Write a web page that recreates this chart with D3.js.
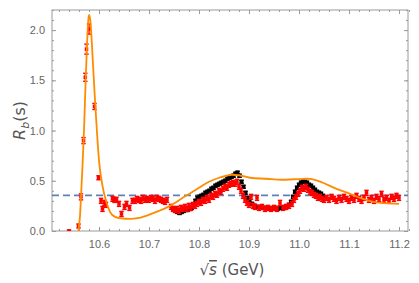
<!DOCTYPE html>
<html>
<head>
<meta charset="utf-8">
<script src="https://cdn.jsdelivr.net/npm/d3@7"></script>
<style>
  body { margin: 0; background: #fff; }
  svg { font-family: "DejaVu Sans", sans-serif; }
</style>
</head>
<body>
<div id="chart"></div>
<script>
/* red data points: sqrt(s), R_b, error */
const redX = [10.540, 10.559, 10.564, 10.569, 10.5726, 10.575, 10.580, 10.591, 10.599, 10.604, 10.607, 10.611, 10.614,
  10.627, 10.631, 10.635, 10.640, 10.645, 10.651, 10.655, 10.661, 10.667, 10.672, 10.676, 10.680, 10.684, 10.688,
  10.692, 10.696, 10.700, 10.704, 10.708, 10.712, 10.716, 10.720, 10.724, 10.728, 10.732, 10.736,
  10.744, 10.748, 10.752, 10.756, 10.760, 10.764, 10.768, 10.772, 10.776, 10.780, 10.784, 10.788, 10.792, 10.796,
  10.800, 10.804, 10.808, 10.812, 10.816, 10.820, 10.824, 10.828, 10.832, 10.836, 10.840, 10.844, 10.848, 10.852,
  10.856, 10.860, 10.864, 10.868, 10.872, 10.876, 10.880, 10.884, 10.888, 10.892, 10.896, 10.900, 10.904, 10.908,
  10.912, 10.916, 10.920, 10.926, 10.932, 10.938, 10.944, 10.950, 10.956, 10.962, 10.968, 10.974, 10.980, 10.986,
  10.990, 10.994, 10.998, 11.002, 11.006, 11.010, 11.014, 11.018, 11.022, 11.026, 11.030, 11.034, 11.038, 11.042,
  11.046, 11.050, 11.055, 11.060, 11.065, 11.070, 11.075, 11.080, 11.085, 11.090, 11.095, 11.100, 11.105, 11.110,
  11.115, 11.120, 11.125, 11.130, 11.135, 11.140, 11.145, 11.150, 11.155, 11.160, 11.165, 11.170, 11.175, 11.180,
  11.185, 11.190, 11.195, 11.200];
const redY = [0.00, 0.05, 0.34, 0.90, 1.53, 1.81, 2.01, 1.24, 0.53, 0.30, 0.22, 0.28, 0.26,
  0.32, 0.31, 0.31, 0.27, 0.17, 0.24, 0.27, 0.23, 0.30, 0.30, 0.32, 0.31, 0.30, 0.33,
  0.31, 0.32, 0.31, 0.33, 0.32, 0.30, 0.33, 0.32, 0.31, 0.30, 0.29, 0.31,
  0.24, 0.22, 0.21, 0.22, 0.20, 0.23, 0.22, 0.24, 0.22, 0.25, 0.23, 0.26, 0.25, 0.27,
  0.29, 0.28, 0.31, 0.30, 0.33, 0.31, 0.35, 0.34, 0.37, 0.36, 0.40, 0.39, 0.42, 0.44,
  0.43, 0.46, 0.47, 0.48, 0.47, 0.49, 0.44, 0.40, 0.35, 0.31, 0.28, 0.26, 0.34, 0.25,
  0.24, 0.33, 0.23, 0.24, 0.22, 0.23, 0.22, 0.23, 0.22, 0.28, 0.23, 0.24, 0.25, 0.27,
  0.31, 0.34, 0.37, 0.40, 0.43, 0.42, 0.44, 0.41, 0.39, 0.38, 0.36, 0.35, 0.33, 0.34,
  0.32, 0.31, 0.33, 0.31, 0.34, 0.32, 0.30, 0.33, 0.31, 0.34, 0.32, 0.30, 0.33, 0.31,
  0.35, 0.32, 0.30, 0.33, 0.38, 0.31, 0.33, 0.30, 0.34, 0.32, 0.37, 0.31, 0.33, 0.30,
  0.34, 0.32, 0.35, 0.33];
const redErr = [0.01, 0.02, 0.03, 0.03, 0.04, 0.05, 0.05, 0.03, 0.02];   // first points, rest use default
const redErrDefault = 0.025;

/* black data points */
const blackX = [10.749, 10.753, 10.757, 10.761, 10.765, 10.769, 10.773, 10.777, 10.781, 10.785, 10.789, 10.793,
  10.797, 10.801, 10.805, 10.809, 10.813, 10.817, 10.821, 10.825, 10.829, 10.833, 10.837, 10.841, 10.845, 10.849,
  10.853, 10.857, 10.861, 10.865, 10.869, 10.873, 10.877, 10.881, 10.885, 10.889, 10.893, 10.897, 10.901, 10.906,
  10.911, 10.917, 10.923, 10.930, 10.937, 10.944, 10.951, 10.958, 10.965, 10.971, 10.976, 10.980, 10.984, 10.988,
  10.992, 10.996, 11.000, 11.004, 11.008, 11.012, 11.016, 11.020, 11.024, 11.028, 11.032, 11.036, 11.040, 11.044,
  11.048];
const blackY = [0.22, 0.20, 0.19, 0.18, 0.19, 0.20, 0.21, 0.21, 0.22, 0.23, 0.26, 0.30,
  0.33, 0.34, 0.35, 0.36, 0.38, 0.39, 0.40, 0.42, 0.43, 0.45, 0.46, 0.47, 0.48, 0.49,
  0.50, 0.52, 0.53, 0.54, 0.55, 0.57, 0.58, 0.55, 0.49, 0.44, 0.38, 0.33, 0.30, 0.27,
  0.25, 0.24, 0.235, 0.23, 0.23, 0.225, 0.23, 0.225, 0.23, 0.23, 0.24, 0.26, 0.29, 0.34,
  0.39, 0.43, 0.46, 0.48, 0.49, 0.49, 0.48, 0.46, 0.45, 0.43, 0.41, 0.39, 0.38, 0.37,
  0.35];
const blackErr = 0.015;

/* model curve (orange) */
const curveX = [10.556, 10.560, 10.562, 10.564, 10.567, 10.570, 10.573, 10.576, 10.579, 10.5806, 10.583, 10.587,
  10.592, 10.596, 10.600, 10.607, 10.614, 10.622, 10.632, 10.645, 10.662, 10.680, 10.702, 10.720, 10.742, 10.772,
  10.800, 10.820, 10.840, 10.855, 10.866, 10.880, 10.902, 10.935, 10.965, 10.990, 11.018, 11.035, 11.048, 11.075,
  11.102, 11.128, 11.162, 11.200];
const curveY = [-0.1, 0.05, 0.15, 0.34, 0.65, 1.00, 1.45, 1.85, 2.12, 2.15, 2.08, 1.75,
  1.30, 0.98, 0.70, 0.45, 0.30, 0.19, 0.14, 0.125, 0.12, 0.13, 0.165, 0.20, 0.25, 0.345,
  0.43, 0.49, 0.53, 0.55, 0.56, 0.555, 0.53, 0.52, 0.51, 0.515, 0.52, 0.505, 0.48, 0.42,
  0.37, 0.32, 0.28, 0.27];

const baseline = 0.355;

const xTicks = [10.6, 10.7, 10.8, 10.9, 11.0, 11.1, 11.2];
const yTicks = [0.0, 0.5, 1.0, 1.5, 2.0];

const W = 419, H = 283;
const margin = { top: 10, right: 11, bottom: 52, left: 52 };
const iw = W - margin.left - margin.right;
const ih = H - margin.top - margin.bottom;

const x = d3.scaleLinear().domain([10.506, 11.218]).range([0, iw]);
const y = d3.scaleLinear().domain([0, 2.2]).range([ih, 0]);

const svg = d3.select("#chart").append("svg")
  .attr("width", W).attr("height", H);

svg.append("defs").append("clipPath").attr("id", "clip")
  .append("rect").attr("width", iw).attr("height", ih);

const g = svg.append("g").attr("transform", `translate(${margin.left},${margin.top})`);

/* frame with inward ticks on all sides */
const frameColor = "#9a9a9a";
const labelColor = "#666";

const xMinor = d3.range(10.52, 11.2201, 0.02);
const yMinor = d3.range(0, 2.2001, 0.1);

function frameTicks(axisGen, sel) {
  sel.call(axisGen).call(s => s.select(".domain").remove());
  sel.selectAll("line").attr("stroke", frameColor);
}

// bottom
g.append("g").attr("transform", `translate(0,${ih})`)
  .call(s => frameTicks(d3.axisBottom(x).tickValues(xMinor).tickSizeInner(-2).tickFormat(""), s));
g.append("g").attr("transform", `translate(0,${ih})`)
  .call(s => frameTicks(d3.axisBottom(x).tickValues(xTicks).tickSizeInner(-4).tickPadding(9).tickFormat(d3.format(".1f")), s))
  .selectAll("text").attr("fill", labelColor).style("font-size", "11px");
// top
g.append("g").call(s => frameTicks(d3.axisTop(x).tickValues(xMinor).tickSizeInner(-2).tickFormat(""), s));
g.append("g").call(s => frameTicks(d3.axisTop(x).tickValues(xTicks).tickSizeInner(-4).tickFormat(""), s));
// left
g.append("g").call(s => frameTicks(d3.axisLeft(y).tickValues(yMinor).tickSizeInner(-2).tickFormat(""), s));
g.append("g")
  .call(s => frameTicks(d3.axisLeft(y).tickValues(yTicks).tickSizeInner(-4).tickPadding(7).tickFormat(d3.format(".1f")), s))
  .selectAll("text").attr("fill", labelColor).style("font-size", "11px");
// right
g.append("g").attr("transform", `translate(${iw},0)`)
  .call(s => frameTicks(d3.axisRight(y).tickValues(yMinor).tickSizeInner(-2).tickFormat(""), s));
g.append("g").attr("transform", `translate(${iw},0)`)
  .call(s => frameTicks(d3.axisRight(y).tickValues(yTicks).tickSizeInner(-4).tickFormat(""), s));

g.append("rect").attr("width", iw).attr("height", ih)
  .attr("fill", "none").attr("stroke", frameColor).attr("stroke-width", 1);

const plot = g.append("g").attr("clip-path", "url(#clip)");

/* dashed baseline */
plot.append("line")
  .attr("x1", 0).attr("x2", iw)
  .attr("y1", y(baseline)).attr("y2", y(baseline))
  .attr("stroke", "#5e81b5").attr("stroke-width", 1.8)
  .attr("stroke-dasharray", "7,4");

/* error bar helper */
function drawPoints(data, color, size, sw) {
  const pts = plot.append("g").selectAll("g").data(data).join("g");
  pts.append("line")
    .attr("x1", d => x(d.x)).attr("x2", d => x(d.x))
    .attr("y1", d => y(d.y - d.e)).attr("y2", d => y(d.y + d.e))
    .attr("stroke", color).attr("stroke-width", sw);
  pts.append("line")
    .attr("x1", d => x(d.x) - 2.2).attr("x2", d => x(d.x) + 2.2)
    .attr("y1", d => y(d.y + d.e)).attr("y2", d => y(d.y + d.e))
    .attr("stroke", color).attr("stroke-width", sw);
  pts.append("line")
    .attr("x1", d => x(d.x) - 2.2).attr("x2", d => x(d.x) + 2.2)
    .attr("y1", d => y(d.y - d.e)).attr("y2", d => y(d.y - d.e))
    .attr("stroke", color).attr("stroke-width", sw);
  pts.append("rect")
    .attr("x", d => x(d.x) - size / 2).attr("y", d => y(d.y) - size / 2)
    .attr("width", size).attr("height", size)
    .attr("fill", color);
}

const redData = redX.map((v, i) => ({ x: v, y: redY[i], e: i < redErr.length ? redErr[i] : redErrDefault }));
const blackData = blackX.map((v, i) => ({ x: v, y: blackY[i], e: blackErr }));

drawPoints(blackData, "#000", 4, 1.5);
drawPoints(redData, "#ff0000", 3.5, 1.4);

/* orange model curve */
const line = d3.line()
  .x(d => x(d[0])).y(d => y(d[1]))
  .curve(d3.curveMonotoneX);
plot.append("path")
  .datum(curveX.map((v, i) => [v, curveY[i]]))
  .attr("d", line)
  .attr("fill", "none")
  .attr("stroke", "#ff8c00")
  .attr("stroke-width", 1.8);

/* axis labels */
svg.append("text")
  .attr("x", margin.left + iw / 2 + 2).attr("y", 275)
  .attr("text-anchor", "middle")
  .attr("fill", "#555")
  .style("font-size", "15px")
  .html('√<tspan font-style="italic" text-decoration="overline">s</tspan> (GeV)');

const yl = svg.append("text")
  .attr("transform", `translate(25,${margin.top + ih / 2}) rotate(-90)`)
  .attr("text-anchor", "middle")
  .attr("fill", "#555")
  .style("font-size", "16px");
yl.append("tspan").attr("font-style", "italic").text("R");
yl.append("tspan").attr("font-style", "italic").attr("font-size", "11px").attr("dy", 4).text("b");
yl.append("tspan").attr("dy", -4).text("(s)");
</script>
</body>
</html>
